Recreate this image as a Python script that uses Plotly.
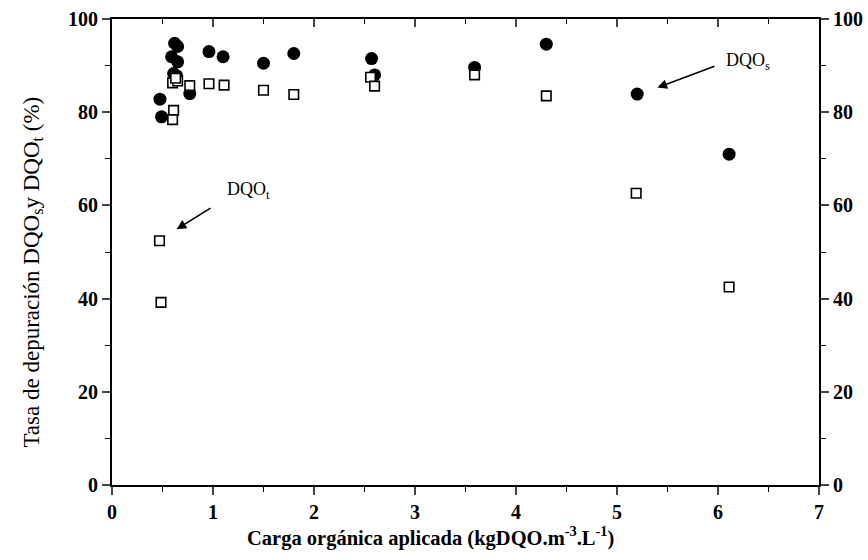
import plotly.graph_objects as go

# DQOs (filled circles)
dqos_x = [0.475, 0.49, 0.62, 0.65, 0.59, 0.65, 0.61, 0.64, 0.77, 0.96, 1.10, 1.50, 1.80,
          2.57, 2.60, 3.59, 4.30, 5.20, 6.11]
dqos_y = [82.8, 79.0, 94.8, 94.1, 91.9, 90.8, 88.3, 87.8, 84.0, 93.0, 91.9, 90.5, 92.6,
          91.5, 88.0, 89.6, 94.6, 83.9, 71.0]

# DQOt (open squares)
dqot_x = [0.47, 0.485, 0.60, 0.65, 0.63, 0.77, 0.61, 0.60, 0.96, 1.11, 1.50, 1.80,
          2.56, 2.60, 3.59, 4.30, 5.19, 6.11]
dqot_y = [52.4, 39.2, 86.3, 86.7, 87.3, 85.7, 80.4, 78.4, 86.1, 85.8, 84.7, 83.8,
          87.5, 85.6, 88.0, 83.5, 62.6, 42.5]

x_ticks = [0, 1, 2, 3, 4, 5, 6, 7]
y_ticks = [0, 20, 40, 60, 80, 100]

FONT = "Liberation Serif, Times New Roman, Times, serif"

fig = go.Figure()
fig.add_trace(go.Scatter(x=dqos_x, y=dqos_y, mode="markers",
                         marker=dict(symbol="circle", size=13, color="black"),
                         showlegend=False))
fig.add_trace(go.Scatter(x=dqot_x, y=dqot_y, mode="markers",
                         marker=dict(symbol="square", size=9.5, color="white",
                                     line=dict(color="black", width=1.6)),
                         showlegend=False))
# invisible trace to activate secondary axes
fig.add_trace(go.Scatter(x=[None], y=[None], xaxis="x2", yaxis="y2",
                         mode="markers", showlegend=False, hoverinfo="skip"))

tickfont = dict(family=FONT, size=20, color="black")
xlabels = ["<b>%d</b>" % v for v in x_ticks]
ylabels = ["<b>%d</b>" % v for v in y_ticks]

common = dict(showline=True, linewidth=2, linecolor="black", showgrid=False,
              zeroline=False, automargin=False)

fig.update_layout(
    width=868, height=560,
    margin=dict(l=112, r=49, t=19, b=75, autoexpand=False),
    paper_bgcolor="white", plot_bgcolor="white",
    font=dict(family=FONT, color="black"),
    xaxis=dict(range=[0, 7], tickvals=x_ticks, ticktext=xlabels, ticks="outside",
               ticklen=8, tickwidth=1.5, tickfont=tickfont,
               minor=dict(dtick=0.5, tick0=0, ticks="outside", ticklen=5, tickwidth=1.2,
                          tickcolor="black", showgrid=False), **common),
    xaxis2=dict(range=[0, 7], overlaying="x", side="top", tickvals=x_ticks,
                ticks="inside", ticklen=8, tickwidth=1.5, showticklabels=False,
                minor=dict(dtick=0.5, tick0=0, ticks="inside", ticklen=5, tickwidth=1.2,
                           tickcolor="black", showgrid=False), **common),
    yaxis=dict(range=[0, 100], tickvals=y_ticks, ticktext=ylabels, ticks="outside",
               ticklen=8, tickwidth=1.5, tickfont=tickfont,
               minor=dict(dtick=10, tick0=0, ticks="outside", ticklen=5, tickwidth=1.2,
                          tickcolor="black", showgrid=False), **common),
    yaxis2=dict(range=[0, 100], overlaying="y", side="right", tickvals=y_ticks,
                ticktext=ylabels, ticks="outside", ticklen=8, tickwidth=1.5,
                tickfont=tickfont,
                minor=dict(dtick=10, tick0=0, ticks="outside", ticklen=5, tickwidth=1.2,
                           tickcolor="black", showgrid=False), **common),
)

# axis titles as annotations (positioned like the reference)
fig.add_annotation(xref="paper", yref="paper", x=0.45, y=0, yanchor="top", yshift=-36,
                   text="<b>Carga orgánica aplicada (kgDQO.m<sup>-3</sup>.L<sup>-1</sup>)</b>",
                   showarrow=False, font=dict(family=FONT, size=20.5))
fig.add_annotation(xref="paper", yref="paper", x=-0.135, y=0.457, textangle=-90,
                   text="Tasa de depuración DQO<sub>s</sub>y DQO<sub>t</sub> (%)",
                   showarrow=False, font=dict(family=FONT, size=23))

# arrows
fig.add_annotation(x=5.40, y=85.3, ax=5.98, ay=90.0, axref="x", ayref="y",
                   xref="x", yref="y", text="", showarrow=True,
                   arrowhead=2, arrowsize=1.2, arrowwidth=1.6, arrowcolor="black")
fig.add_annotation(x=6.30, y=90.8, text="DQO<sub>s</sub>", showarrow=False,
                   font=dict(family=FONT, size=18, color="black"))
fig.add_annotation(x=0.64, y=54.9, ax=0.99, ay=59.6, axref="x", ayref="y",
                   xref="x", yref="y", text="", showarrow=True,
                   arrowhead=2, arrowsize=1.2, arrowwidth=1.6, arrowcolor="black")
fig.add_annotation(x=1.35, y=63.3, text="DQO<sub>t</sub>", showarrow=False,
                   font=dict(family=FONT, size=18, color="black"))

fig.write_html("out.html")
